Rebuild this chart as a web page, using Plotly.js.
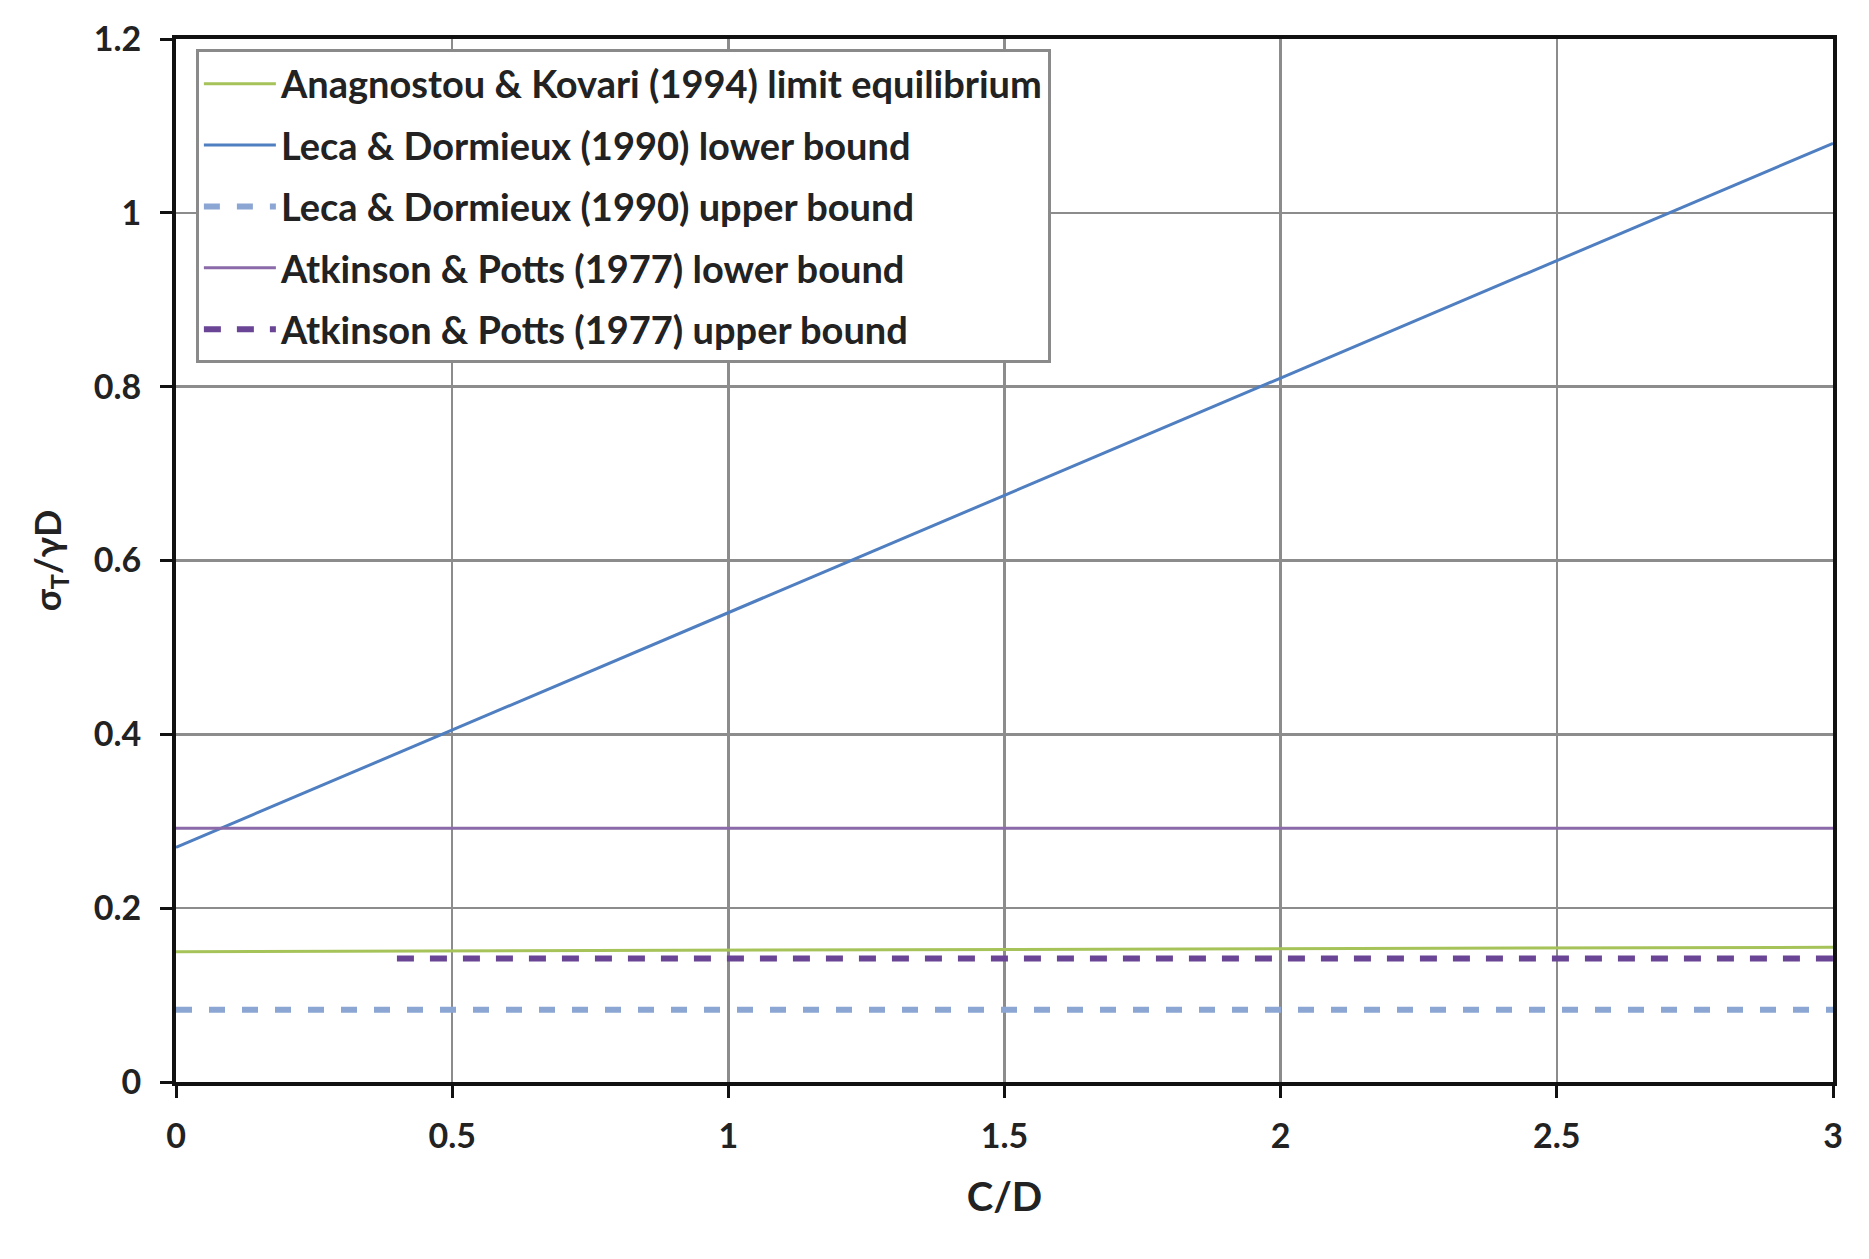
<!DOCTYPE html>
<html>
<head>
<meta charset="utf-8">
<script src="https://cdn.plot.ly/plotly-3.0.1.min.js"></script>
<style>
html,body{margin:0;padding:0;background:#fff;}
#chart{width:1869px;height:1259px;}
</style>
</head>
<body>
<div id="chart"></div>
<script>
// Data
const seriesNames = [
  "Anagnostou & Kovari (1994) limit equilibrium",
  "Leca & Dormieux (1990) lower bound",
  "Leca & Dormieux (1990) upper bound",
  "Atkinson & Potts (1977) lower bound",
  "Atkinson & Potts (1977) upper bound"
];
const anagX = [0, 3];
const anagY = [0.150, 0.155];
const lecaLowerX = [0, 0.5, 1, 1.5, 2, 2.5, 3];
const lecaLowerY = [0.27, 0.405, 0.54, 0.675, 0.81, 0.945, 1.08];
const lecaUpperX = [0, 3];
const lecaUpperY = [0.083, 0.083];
const atkLowerX = [0, 3];
const atkLowerY = [0.292, 0.292];
const atkUpperX = [0.4, 3];
const atkUpperY = [0.142, 0.142];
const xTicks = [0, 0.5, 1, 1.5, 2, 2.5, 3];
const xTickLabels = ["0", "0.5", "1", "1.5", "2", "2.5", "3"];
const yTicks = [0, 0.2, 0.4, 0.6, 0.8, 1, 1.2];
const yTickLabels = ["0", "0.2", "0.4", "0.6", "0.8", "1", "1.2"];

const FONT = "Lato, 'Open Sans', 'Liberation Sans', sans-serif";

const traces = [
  {x: anagX, y: anagY, name: seriesNames[0], mode: "lines", legendgroup: "g1",
   line: {color: "#a6c35a", width: 3}},
  {x: lecaLowerX, y: lecaLowerY, name: seriesNames[1], mode: "lines", legendgroup: "g2",
   line: {color: "#4f7fc0", width: 3}},
  {x: lecaUpperX, y: lecaUpperY, name: seriesNames[2], mode: "lines", legendgroup: "g3",
   line: {color: "#8ca6d4", width: 6, dash: "16px,17px"}},
  {x: atkLowerX, y: atkLowerY, name: seriesNames[3], mode: "lines", legendgroup: "g4",
   line: {color: "#8a6aa8", width: 3}},
  {x: atkUpperX, y: atkUpperY, name: seriesNames[4], mode: "lines", legendgroup: "g5",
   line: {color: "#6a4596", width: 6, dash: "17px,16px"}}
];

const layout = {
  width: 1869,
  height: 1259,
  paper_bgcolor: "#ffffff",
  plot_bgcolor: "#ffffff",
  margin: {l: 176, r: 36, t: 39, b: 177},
  font: {family: FONT, color: "#222", size: 28},
  showlegend: true,
  legend: {
    x: 0.012, y: 0.99, xanchor: "left", yanchor: "top",
    bgcolor: "#ffffff",
    bordercolor: "#8a8a8a",
    borderwidth: 3,
    font: {family: FONT, size: 38, color: "#222", weight: "bold"},
    tracegroupgap: 9,
    traceorder: "grouped",
    itemwidth: 72
  },
  xaxis: {
    range: [0, 3],
    tickvals: xTicks,
    ticktext: xTickLabels,
    showgrid: true,
    gridcolor: "#8c8c8c",
    gridwidth: 2.5,
    zeroline: false,
    showline: true,
    linecolor: "#111",
    linewidth: 4,
    mirror: true,
    ticks: "outside",
    ticklen: 12,
    tickwidth: 3,
    tickcolor: "#111",
    ticklabelstandoff: 9,
    tickfont: {family: FONT, size: 34, color: "#222", weight: "bold"},
    title: {text: "C/D", font: {family: FONT, size: 40, color: "#222", weight: "bold"}, standoff: 30}
  },
  yaxis: {
    range: [0, 1.2],
    tickvals: yTicks,
    ticktext: yTickLabels,
    showgrid: true,
    gridcolor: "#8c8c8c",
    gridwidth: 2.5,
    zeroline: false,
    showline: true,
    linecolor: "#111",
    linewidth: 4,
    mirror: true,
    ticks: "outside",
    ticklen: 12,
    tickwidth: 3,
    tickcolor: "#111",
    ticklabelstandoff: 12,
    tickfont: {family: FONT, size: 34, color: "#222", weight: "bold"},
    title: {text: "σ<sub>T</sub>/γD", font: {family: FONT, size: 36, color: "#222", weight: "bold"}, standoff: 22}
  }
};

Plotly.newPlot("chart", traces, layout, {staticPlot: true, displayModeBar: false});
</script>
</body>
</html>
